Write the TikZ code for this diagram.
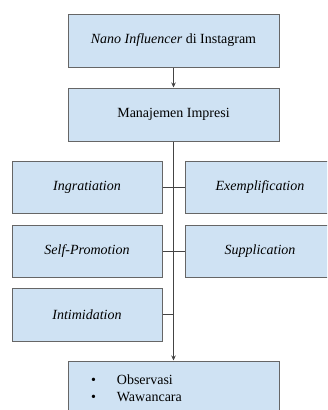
\documentclass[tikz,border=0pt]{standalone}
\usepackage{fontspec}
\setmainfont{Liberation Serif}
\usetikzlibrary{arrows.meta}
\definecolor{boxfill}{HTML}{CFE2F3}
\definecolor{boxline}{HTML}{666666}
\definecolor{conline}{HTML}{444444}
\begin{document}
\begin{tikzpicture}[x=1pt,y=-1pt,
  box/.style={draw=boxline, fill=boxfill, line width=1pt, inner sep=0pt, font=\fontsize{14}{17}\selectfont},
  wide/.style={box, minimum width=211pt, minimum height=53pt},
  small/.style={box, minimum width=150pt, minimum height=52pt},
  con/.style={draw=conline, line width=1pt},
  arr/.style={con, -{Stealth[length=5pt,width=4.5pt]}}]
\useasboundingbox (0,0) rectangle (327,410);
\clip (0,0) rectangle (327,410);
\node[wide] (top) at (173.5,40.5) {\textit{Nano Influencer} di Instagram};
\node[wide] (mi) at (173.5,114.5) {Manajemen Impresi};
\node[small] (ing) at (87,187) {\textit{Ingratiation}};
\node[small] (exe) at (260,187) {\textit{Exemplification}};
\node[small] (sp) at (87,251) {\textit{Self-Promotion}};
\node[small] (sup) at (260,251) {\textit{Supplication}};
\node[small, minimum height=53pt] (int) at (87,314.5) {\textit{Intimidation}};
\node[wide, minimum height=57pt, text width=211pt, align=left] (met) at (173.5,389.5)
  {\hspace{23pt}\begin{tabular}{@{}l@{\hspace{21pt}}l@{}}\textbullet & Observasi\\ \textbullet & Wawancara\end{tabular}};
\coordinate (j) at (mi.south |- int.east);
\draw[arr] (top) -- (mi);
\draw[arr] (mi) -- (met);
\draw[con] (ing) -- (exe);
\draw[con] (sp) -- (sup);
\draw[con] (int.east) -- (j);
\end{tikzpicture}
\end{document}
